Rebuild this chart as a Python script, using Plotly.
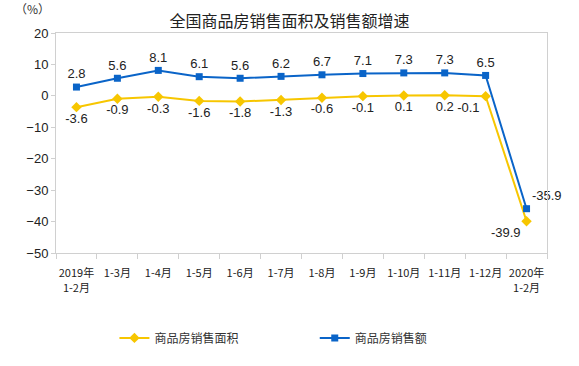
import plotly.graph_objects as go

categories = ["2019年<br>1-2月", "1-3月", "1-4月", "1-5月", "1-6月", "1-7月", "1-8月",
              "1-9月", "1-10月", "1-11月", "1-12月", "2020年<br>1-2月"]
area_growth = [-3.6, -0.9, -0.3, -1.6, -1.8, -1.3, -0.6, -0.1, 0.1, 0.2, -0.1, -39.9]
sales_growth = [2.8, 5.6, 8.1, 6.1, 5.6, 6.2, 6.7, 7.1, 7.3, 7.3, 6.5, -35.9]
y_ticks = [20, 10, 0, -10, -20, -30, -40, -50]

x = list(range(len(categories)))
area_pos = ["bottom center"] * 10 + ["bottom left", "bottom left"]
sales_pos = ["top center"] * 11 + ["top right"]

fig = go.Figure()
fig.add_trace(go.Scatter(
    x=x, y=area_growth, name="商品房销售面积", mode="lines+markers+text",
    line=dict(color="#F7C600", width=2),
    marker=dict(symbol="diamond", size=8, color="#F7C600"),
    text=[f"{v:.1f}" for v in area_growth], textposition=area_pos,
    textfont=dict(family="Liberation Sans, Arial", size=13, color="#222"),
    cliponaxis=False, legend="legend",
))
fig.add_trace(go.Scatter(
    x=x, y=sales_growth, name="商品房销售额", mode="lines+markers+text",
    line=dict(color="#0A64C8", width=2),
    marker=dict(symbol="square", size=7, color="#0A64C8"),
    text=[f"{v:.1f}" for v in sales_growth], textposition=sales_pos,
    textfont=dict(family="Liberation Sans, Arial", size=13, color="#222"),
    cliponaxis=False, legend="legend2",
))

legend_font = dict(family="Noto Sans CJK SC", size=12, color="#333")
fig.update_layout(
    width=579, height=366,
    margin=dict(l=56, r=32, t=33, b=113, autoexpand=False),
    paper_bgcolor="white", plot_bgcolor="white",
    title=dict(text="全国商品房销售面积及销售额增速", x=0.5, xanchor="center",
               y=1 - 21 / 366, yanchor="middle",
               font=dict(family="Noto Sans CJK SC", size=16, color="#222")),
    showlegend=True,
    legend=dict(orientation="h", x=0.119, xanchor="left", y=-0.386, yanchor="middle",
                font=legend_font, itemwidth=30, bgcolor="rgba(0,0,0,0)"),
    legend2=dict(orientation="h", x=0.527, xanchor="left", y=-0.386, yanchor="middle",
                 font=legend_font, itemwidth=30, bgcolor="rgba(0,0,0,0)"),
    annotations=[dict(text="（%）", xref="paper", yref="paper", x=-0.088, y=1.11,
                      xanchor="left", yanchor="middle", showarrow=False,
                      font=dict(family="Noto Sans CJK SC", size=12, color="#333"))],
)
fig.update_xaxes(
    range=[-0.5, len(categories) - 0.5], tickmode="array", tickvals=x, ticktext=categories,
    showgrid=False, showline=True, linecolor="#D0D0D0", linewidth=1, mirror=True,
    ticks="", ticklabelstandoff=10, automargin=False,
    tickfont=dict(family="Noto Sans CJK SC", size=11, color="#222"), zeroline=False,
    minor=dict(tickvals=[i + 0.5 for i in range(-1, len(categories))],
               ticks="outside", ticklen=5, tickcolor="#D0D0D0"),
)
fig.update_yaxes(
    range=[-50, 20], tickvals=y_ticks, showgrid=False, zeroline=False,
    showline=True, linecolor="#D0D0D0", linewidth=1, mirror=True, automargin=False,
    ticks="outside", ticklen=4, tickcolor="#D0D0D0",
    tickfont=dict(family="Liberation Sans, Arial", size=13, color="#222"),
)

fig.write_html("out.html", config={"displayModeBar": False},
               post_script="document.body.style.margin='0px';")
